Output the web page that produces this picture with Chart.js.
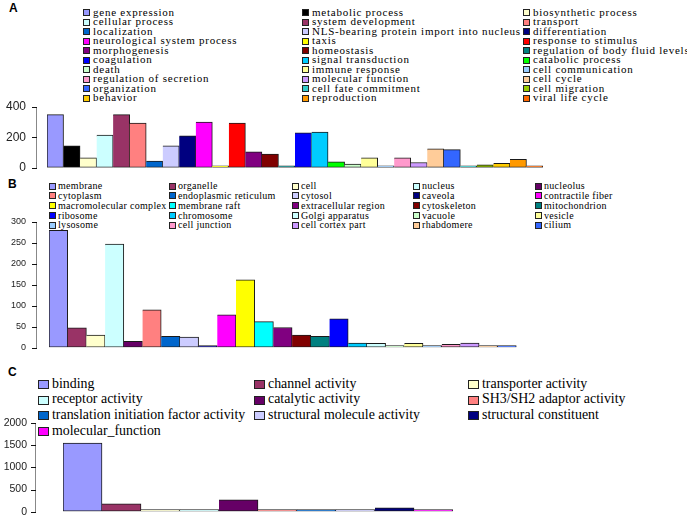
<!DOCTYPE html>
<html>
<head>
<meta charset="utf-8">
<script src="https://cdn.jsdelivr.net/npm/chart.js@4.4.1/dist/chart.umd.min.js"></script>
<style>
  body { margin: 0; background: #fff; width: 687px; height: 519px; position: relative; overflow: hidden; }
  .wrap { position: absolute; left: 0; }
  .tag { position: absolute; font: bold 12px "Liberation Sans", Arial, sans-serif; line-height: 1; }
  .mk { position: absolute; box-sizing: border-box; border: 1px solid #222; }
  .tx { position: absolute; white-space: nowrap; font-family: "Liberation Serif", "Times New Roman", serif; color: #000; }
</style>
</head>
<body>
<div class="tag" style="left:9px;top:2px">A</div>
<div class="tag" style="left:8px;top:178px">B</div>
<div class="tag" style="left:8px;top:366px">C</div>
<div id="legA"></div>
<div id="legB"></div>
<div id="legC"></div>
<div class="wrap" style="top:97px;width:560px;height:78px"><canvas id="chartA"></canvas></div>
<div class="wrap" style="top:212px;width:530px;height:141px"><canvas id="chartB"></canvas></div>
<div class="wrap" style="top:413px;width:470px;height:105px"><canvas id="chartC"></canvas></div>
<script>
// A: biological process
const bpLabels = [
  'gene expression', 'metabolic process', 'biosynthetic process',
  'cellular process', 'system development', 'transport',
  'localization', 'NLS-bearing protein import into nucleus', 'differentiation',
  'neurological system process', 'taxis', 'response to stimulus',
  'morphogenesis', 'homeostasis', 'regulation of body fluid levels',
  'coagulation', 'signal transduction', 'catabolic process',
  'death', 'immune response', 'cell communication',
  'regulation of secretion', 'molecular function', 'cell cycle',
  'organization', 'cell fate commitment', 'cell migration',
  'behavior', 'reproduction', 'viral life cycle'
];
const bpValues = [350, 145, 65, 215, 350, 295, 45, 145, 210, 300, 10, 295, 105, 90, 8,
                  230, 235, 40, 25, 65, 12, 65, 35, 125, 120, 8, 20, 30, 55, 2];
const bpColors = ['#9999FF', '#000000', '#FFFFCC', '#CCFFFF', '#993366', '#FF8080',
                  '#0066CC', '#CCCCFF', '#000080', '#FF00FF', '#FFFF00', '#FF0000',
                  '#800080', '#800000', '#008080', '#0000FF', '#00CCFF', '#00FF00',
                  '#CCFFCC', '#FFFF99', '#99CCFF', '#FF99CC', '#CC99FF', '#FFCC99',
                  '#3366FF', '#33CCCC', '#99CC00', '#FFCC00', '#FF9900', '#FF6600'];
const bpTicks = [0, 100, 200, 300, 400];

// B: cellular component
const ccLabels = [
  'membrane', 'organelle', 'cell', 'nucleus', 'nucleolus',
  'cytoplasm', 'endoplasmic reticulum', 'cytosol', 'caveola', 'contractile fiber',
  'macromolecular complex', 'membrane raft', 'extracellular region', 'cytoskeleton', 'mitochondrion',
  'ribosome', 'chromosome', 'Golgi apparatus', 'vacuole', 'vesicle',
  'lysosome', 'cell junction', 'cell cortex part', 'rhabdomere', 'cilium'
];
const ccValues = [280, 47, 30, 247, 15, 90, 27, 25, 1, 78, 162, 62, 48, 30, 27,
                  69, 11, 10, 5, 10, 1, 8, 11, 1, 1];
const ccColors = ['#9999FF', '#993366', '#FFFFCC', '#CCFFFF', '#660066',
                  '#FF8080', '#0066CC', '#CCCCFF', '#000080', '#FF00FF',
                  '#FFFF00', '#00FFFF', '#800080', '#800000', '#008080',
                  '#0000FF', '#00CCFF', '#CCFFFF', '#CCFFCC', '#FFFF99',
                  '#99CCFF', '#FF99CC', '#CC99FF', '#FFCC99', '#3366FF'];
const ccTicks = [0, 50, 100, 150, 200, 250, 300];

// C: molecular function
const mfLabels = [
  'binding', 'channel activity', 'transporter activity',
  'receptor activity', 'catalytic activity', 'SH3/SH2 adaptor activity',
  'translation initiation factor activity', 'structural molecule activity', 'structural constituent',
  'molecular_function'
];
const mfValues = [1550, 180, 50, 30, 270, 25, 25, 25, 85, 20];
const mfColors = ['#9999FF', '#993366', '#FFFFCC', '#CCFFFF', '#660066', '#FF8080',
                  '#0066CC', '#CCCCFF', '#000080', '#FF00FF'];
const mfTicks = [0, 500, 1000, 1500, 2000];

// legends are laid out as a grid, row by row
function legend(id, labels, colors, o) {
  const box = document.getElementById(id);
  labels.forEach((name, i) => {
    const col = i % o.cols.length, row = Math.floor(i / o.cols.length);
    const x = o.cols[col], cy = o.y0 + row * o.dy;
    const mk = document.createElement('div');
    mk.className = 'mk';
    mk.style.cssText = `left:${x}px;top:${cy - o.mh / 2}px;width:${o.mw}px;height:${o.mh}px;background:${colors[i]}`;
    box.appendChild(mk);
    const tx = document.createElement('div');
    tx.className = 'tx';
    tx.textContent = name;
    tx.style.cssText = `left:${x + o.dx}px;top:${cy - o.size * 0.62}px;font-size:${o.size}px;line-height:${o.size * 1.15}px;letter-spacing:${o.ls}px`;
    box.appendChild(tx);
  });
}

legend('legA', bpLabels, bpColors, { cols: [83, 302, 523], y0: 12.5, dy: 9.5, dx: 10, mw: 7, mh: 7, size: 11, ls: 0.75 });
legend('legB', ccLabels, ccColors, { cols: [49, 169, 292, 413, 535], y0: 186, dy: 9.9, dx: 9, mw: 7, mh: 7, size: 10, ls: 0.3 });
legend('legC', mfLabels, mfColors, { cols: [38, 254, 468], y0: 384.5, dy: 15.6, dx: 14, mw: 11, mh: 9, size: 13.9, ls: 0 });

// tick marks and a thin axis line, filled as small rects a little left of the bars
function tickMarks(gap) {
  return {
    id: 'tickMarks',
    afterDraw(chart) {
      const ctx = chart.ctx, y = chart.scales.y, a = chart.chartArea;
      const x0 = Math.round(a.left - gap);
      const yTop = Math.round(y.getPixelForValue(y.max));
      const yBot = Math.round(y.getPixelForValue(y.min));
      ctx.save();
      ctx.fillStyle = '#888888';
      ctx.fillRect(x0, yTop, 1, yBot - yTop + 1);
      ctx.fillStyle = '#111111';
      y.ticks.forEach(t => {
        const py = Math.round(y.getPixelForValue(t.value));
        ctx.fillRect(x0 - 4, py, 5, 1);
      });
      ctx.restore();
    }
  };
}

function bars(id, labels, values, colors, ticks, o) {
  const top = ticks[ticks.length - 1];
  const setTicks = s => { s.ticks = ticks.map(v => ({ value: v })); };
  const markW = 6;
  new Chart(document.getElementById(id), {
    type: 'bar',
    data: {
      labels: labels,
      datasets: [{
        data: values,
        backgroundColor: colors,
        borderColor: '#1a1a1a',
        borderWidth: 1,
        borderSkipped: c => (c.dataIndex === 0 ? false : 'left'),
        categoryPercentage: 1,
        barPercentage: 1,
        minBarLength: 2
      }]
    },
    options: {
      responsive: true,
      maintainAspectRatio: false,
      animation: false,
      events: [],
      layout: { padding: { left: 0, top: 10, right: o.right, bottom: o.bottom } },
      plugins: {
        legend: { display: false },
        tooltip: { enabled: false }
      },
      scales: {
        x: { display: false },
        // tick labels, outermost
        y: {
          position: 'left',
          weight: 2,
          min: 0,
          max: top,
          afterBuildTicks: setTicks,
          afterFit: s => { s.width = o.left - o.gap - markW; },
          ticks: {
            padding: 0,
            color: '#222',
            font: { family: 'Liberation Sans, Arial, sans-serif', size: o.font },
            callback: v => String(v)
          },
          grid: { drawOnChartArea: false, drawTicks: true, tickLength: o.lab, color: 'rgba(0,0,0,0)' },
          border: { display: false }
        },
        // room for the tick marks
        yMarks: {
          position: 'left',
          weight: 1,
          min: 0,
          max: top,
          afterFit: s => { s.width = markW; },
          ticks: { display: false },
          grid: { display: false },
          border: { display: false }
        },
        // empty gap between axis line and first bar
        yGap: {
          position: 'left',
          weight: 0,
          min: 0,
          max: top,
          afterFit: s => { s.width = o.gap; },
          ticks: { display: false },
          grid: { display: false },
          border: { display: false }
        }
      }
    },
    plugins: [tickMarks(o.gap)]
  });
}

bars('chartA', bpLabels, bpValues, bpColors, bpTicks, { left: 47, right: 17, bottom: 4, gap: 11, lab: 4, font: 12 });
bars('chartB', ccLabels, ccValues, ccColors, ccTicks, { left: 49, right: 13.5, bottom: 4, gap: 13, lab: 4, font: 9 });
bars('chartC', mfLabels, mfValues, mfColors, mfTicks, { left: 63, right: 17, bottom: 4.5, gap: 28, lab: 2, font: 10.5 });
</script>
</body>
</html>
